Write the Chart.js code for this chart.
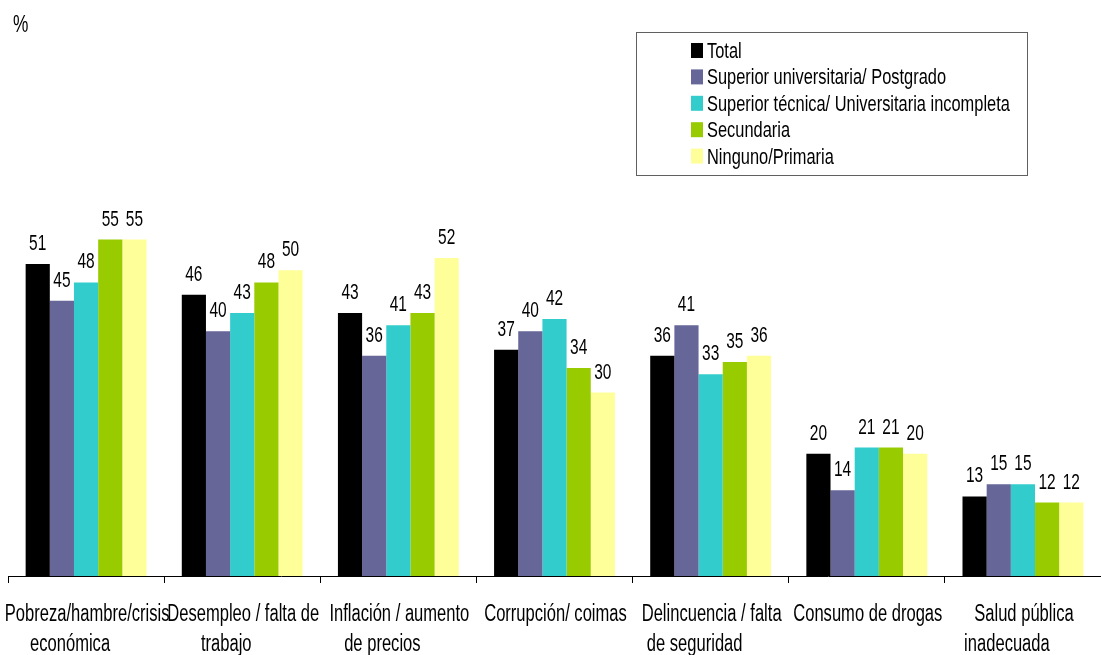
<!DOCTYPE html>
<html>
<head>
<meta charset="utf-8">
<script src="https://cdn.jsdelivr.net/npm/chart.js@4/dist/chart.umd.min.js"></script>
<style>
  body { margin: 0; background: #fff; }
  #wrap { position: relative; width: 1101px; height: 655px; }
</style>
</head>
<body>
<div id="wrap">
  <canvas id="myChart"></canvas>
</div>
<script>
// 데이터
const categories = [
    ['Pobreza/hambre/crisis', 'económica'],
    ['Desempleo / falta de', 'trabajo'],
    ['Inflación / aumento', 'de precios'],
    ['Corrupción/ coimas'],
    ['Delincuencia / falta', 'de seguridad'],
    ['Consumo de drogas'],
    ['Salud pública', 'inadecuada']
];
const seriesNames = ['Total', 'Superior universitaria/ Postgrado', 'Superior técnica/ Universitaria incompleta', 'Secundaria', 'Ninguno/Primaria'];
const total = [51, 46, 43, 37, 36, 20, 13];
const superiorUniv = [45, 40, 36, 40, 41, 14, 15];
const superiorTec = [48, 43, 41, 42, 33, 21, 15];
const secundaria = [55, 48, 43, 34, 35, 21, 12];
const ninguno = [55, 50, 52, 30, 36, 20, 12];
const colors = ['#000000', '#666699', '#33CCCC', '#99CC00', '#FFFF99'];

const FONT = '"Liberation Sans", Arial, sans-serif';
const NARROW = 0.72; // 좁은 글꼴 흉내

function drawText(ctx, text, x, y, size, align) {
    ctx.save();
    ctx.translate(x, y);
    ctx.scale(NARROW, 1);
    ctx.font = size + 'px ' + FONT;
    ctx.fillStyle = '#000';
    ctx.textAlign = align;
    ctx.textBaseline = 'alphabetic';
    ctx.fillText(text, 0, 0);
    ctx.restore();
}

const datasets = [total, superiorUniv, superiorTec, secundaria, ninguno].map((d, i) => ({
    label: seriesNames[i],
    data: d,
    backgroundColor: colors[i],
    borderWidth: 0,
    categoryPercentage: 0.774,
    barPercentage: 1
}));

// 텍스트: 값 라벨, 축 라벨, 범례, 단위
const textPlugin = {
    id: 'textPlugin',
    afterDraw(chart) {
        const ctx = chart.ctx;
        // 값 라벨
        chart.data.datasets.forEach((ds, i) => {
            chart.getDatasetMeta(i).data.forEach((bar, j) => {
                drawText(ctx, String(ds.data[j]), bar.x, bar.y - 14, 21.5, 'center');
            });
        });
        // 카테고리 라벨
        const xs = chart.scales.x;
        chart.data.labels.forEach((lines, i) => {
            const cx = xs.getPixelForValue(i);
            lines.forEach((line, k) => {
                drawText(ctx, line, cx + (k === 0 ? 1 : -16), 621 + k * 30, 23, 'center');
            });
        });
        // 범례
        ctx.save();
        ctx.strokeStyle = '#606060';
        ctx.lineWidth = 1;
        ctx.strokeRect(636.5, 32.5, 391, 143);
        ctx.restore();
        chart.data.datasets.forEach((ds, i) => {
            const base = 58 + i * 26.4;
            ctx.fillStyle = ds.backgroundColor;
            ctx.fillRect(691, base - 15, 12, 15);
            drawText(ctx, ds.label, 707, base, 22.8, 'left');
        });
        // 단위
        drawText(ctx, '%', 13, 32, 24, 'left');
    }
};

const ctx = document.getElementById('myChart').getContext('2d');
const myChart = new Chart(ctx, {
    type: 'bar',
    data: { labels: categories, datasets: datasets },
    options: {
        responsive: true,
        maintainAspectRatio: false,
        animation: false,
        layout: { padding: { top: 209, left: 8, right: 0, bottom: 0 } },
        plugins: { legend: { display: false }, tooltip: { enabled: false } },
        scales: {
            x: {
                grid: { offset: true, drawOnChartArea: false, drawTicks: true, tickLength: 7, color: '#000' },
                border: { display: true, color: '#000' },
                ticks: { display: false },
                afterFit(scale) {
                    scale.height = 79;
                    scale.paddingLeft = 0;
                    scale.paddingRight = 0;
                }
            },
            y: { display: false, min: 0, max: 60 }
        }
    },
    plugins: [textPlugin]
});
</script>
</body>
</html>
